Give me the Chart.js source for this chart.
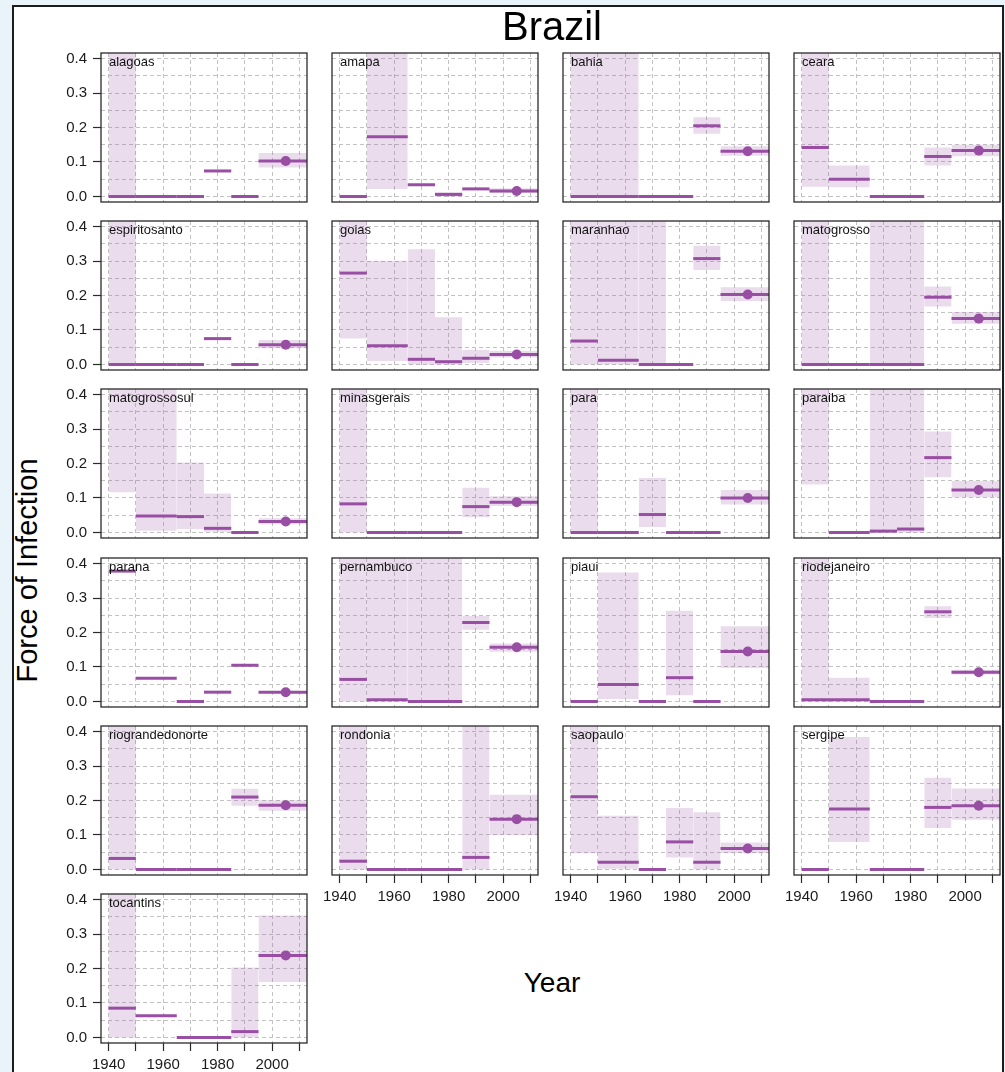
<!DOCTYPE html>
<html>
<head>
<meta charset="utf-8">
<title>Brazil – Force of Infection</title>
<script src="https://cdn.jsdelivr.net/npm/chart.js@4/dist/chart.umd.min.js"></script>
<style>
  html, body { margin: 0; padding: 0; }
  body {
    width: 1005px; height: 1072px; overflow: hidden; position: relative;
    background: #e9f4fa;
    font-family: "Liberation Sans", Arial, Helvetica, sans-serif;
  }
  #frame {
    position: absolute; left: 12px; top: 5px; width: 992px; height: 1100px;
    box-sizing: border-box; background: #fff; border: 2px solid #1c1c1c;
  }
  canvas.panel { position: absolute; }
  .strip { position: absolute; font-size: 13px; line-height: 13px; color: #111; white-space: nowrap; }
  #title { position: absolute; left: 352px; top: 6px; width: 400px; text-align: center;
           font-size: 40px; line-height: 40px; color: #000; }
  #xlabel { position: absolute; left: 402px; top: 969px; width: 300px; text-align: center;
            font-size: 28px; line-height: 28px; color: #000; }
  #ylabel { position: absolute; left: -123px; top: 556px; width: 300px; height: 29px; text-align: center;
            font-size: 29px; line-height: 29px; color: #000; transform: rotate(-90deg); }
</style>
</head>
<body>
<div id="frame"></div>
<div id="panels"></div>
<div id="title">Brazil</div>
<div id="xlabel">Year</div>
<div id="ylabel">Force of Infection</div>
<script>
// States, one panel each, in reading order
const states = [
  'alagoas', 'amapa', 'bahia', 'ceara',
  'espiritosanto', 'goias', 'maranhao', 'matogrosso',
  'matogrossosul', 'minasgerais', 'para', 'paraiba',
  'parana', 'pernambuco', 'piaui', 'riodejaneiro',
  'riograndedonorte', 'rondonia', 'saopaulo', 'sergipe',
  'tocantins'
];

// Period boundaries (years); the last period runs past the axis end
const periodBreaks = [1940, 1950, 1965, 1975, 1985, 1995, 2015];
const estimateYear = 2005;

// Axis ticks
const yearGridLines = [1940, 1950, 1960, 1970, 1980, 1990, 2000, 2010];
const yearLabels = [1940, 1960, 1980, 2000];
const foiGridLines = [0, 0.05, 0.1, 0.15, 0.2, 0.25, 0.3, 0.35, 0.4];
const foiLabels = [0, 0.1, 0.2, 0.3, 0.4];

// Force of infection per period (one row per state)
const foi = [
  [0, 0, 0, 0.074, 0, 0.103],
  [0, 0.173, 0.034, 0.006, 0.022, 0.016],
  [0, 0, 0, 0, 0.205, 0.131],
  [0.142, 0.05, 0, 0, 0.116, 0.133],
  [0, 0, 0, 0.075, 0, 0.057],
  [0.265, 0.054, 0.015, 0.008, 0.018, 0.029],
  [0.068, 0.012, 0, 0, 0.307, 0.203],
  [0, 0, 0, 0, 0.195, 0.133],
  [0.5, 0.048, 0.046, 0.012, 0, 0.032],
  [0.083, 0, 0, 0, 0.075, 0.088],
  [0, 0, 0.052, 0, 0, 0.1],
  [0.5, 0, 0.004, 0.01, 0.217, 0.123],
  [0.378, 0.067, 0, 0.027, 0.105, 0.027],
  [0.064, 0.005, 0, 0, 0.229, 0.157],
  [0, 0.049, 0, 0.069, 0, 0.145],
  [0.005, 0.005, 0, 0, 0.26, 0.085],
  [0.032, 0, 0, 0, 0.21, 0.186],
  [0.024, 0, 0, 0, 0.035, 0.146],
  [0.211, 0.021, 0, 0.08, 0.021, 0.061],
  [0, 0.175, 0, 0, 0.18, 0.185],
  [0.085, 0.063, 0, 0, 0.017, 0.238]
];

// Lower bound of the credible interval per period
const foiLower = [
  [0, 0, 0, 0.074, 0, 0.084],
  [0, 0.022, 0.034, 0, 0.022, 0.01],
  [0, 0, 0, 0, 0.182, 0.118],
  [0.028, 0.027, 0, 0, 0.09, 0.117],
  [0, 0, 0, 0.075, 0, 0.047],
  [0.075, 0.01, 0, 0, 0.004, 0.02],
  [0, 0, 0, 0, 0.274, 0.184],
  [0, 0, 0, 0, 0.168, 0.118],
  [0.117, 0.005, 0.01, 0.002, 0, 0.024],
  [0, 0, 0, 0, 0.044, 0.077],
  [0, 0, 0.016, 0, 0, 0.081],
  [0.139, 0, 0, 0, 0.16, 0.102],
  [0.378, 0.067, 0, 0.027, 0.105, 0.027],
  [0, 0, 0, 0, 0.208, 0.144],
  [0, 0.007, 0, 0.018, 0, 0.097],
  [0, 0, 0, 0, 0.242, 0.078],
  [0, 0, 0, 0, 0.185, 0.17],
  [0, 0, 0, 0, 0, 0.099],
  [0.047, 0.002, 0, 0.035, 0, 0.047],
  [0, 0.08, 0, 0, 0.12, 0.144],
  [0, 0.063, 0, 0, 0, 0.161]
];

// Upper bound of the credible interval per period
const foiUpper = [
  [0.6, 0, 0, 0.074, 0, 0.126],
  [0, 0.6, 0.034, 0.012, 0.022, 0.024],
  [0.6, 0.6, 0, 0, 0.23, 0.146],
  [0.6, 0.09, 0, 0, 0.142, 0.15],
  [0.6, 0, 0, 0.075, 0, 0.071],
  [0.6, 0.301, 0.334, 0.137, 0.042, 0.04],
  [0.6, 0.6, 0.6, 0, 0.344, 0.224],
  [0.6, 0, 0.6, 0.6, 0.226, 0.152],
  [0.6, 0.6, 0.203, 0.113, 0, 0.041],
  [0.6, 0, 0, 0, 0.13, 0.105],
  [0.6, 0, 0.158, 0, 0, 0.123],
  [0.6, 0, 0.6, 0.6, 0.293, 0.149],
  [0.378, 0.067, 0, 0.027, 0.105, 0.027],
  [0.6, 0.6, 0.6, 0.6, 0.248, 0.168],
  [0, 0.374, 0, 0.263, 0, 0.218],
  [0.6, 0.069, 0, 0, 0.276, 0.092],
  [0.6, 0, 0, 0, 0.234, 0.201],
  [0.6, 0, 0, 0, 0.6, 0.217],
  [0.6, 0.156, 0, 0.178, 0.166, 0.078],
  [0, 0.384, 0, 0, 0.266, 0.235],
  [0.6, 0.063, 0, 0, 0.203, 0.354]
];

const FONT = '"Liberation Sans", Arial, Helvetica, sans-serif';
Chart.defaults.font.family = FONT;

const PURPLE = '#984ea3';
const BAND = 'rgba(152, 78, 163, 0.2)';
const GRID = '#c2c2c2';
const INK = '#2a2a2a';

const N_COL = 4;
const PANEL_W = 209, PANEL_H = 152;
const COL_LEFT = 101, COL_STEP = 231;
const ROW_TOP = 50, ROW_STEP = 168.2;
const AXIS_L = 44, AXIS_B = 36, PAD = 2;

// Box around each panel's plotting region
const panelFrame = {
  id: 'panelFrame',
  afterDraw(chart) {
    const { ctx, chartArea: a } = chart;
    ctx.save();
    ctx.strokeStyle = INK;
    ctx.lineWidth = 1.3;
    ctx.strokeRect(a.left, a.top, a.right - a.left, a.bottom - a.top);
    ctx.restore();
  }
};

const near = (v, list) => list.some(t => Math.abs(t - v) < 1e-9);

function panelDatasets(i) {
  const sets = [];
  const n = foi[i].length;
  // credible-interval bands
  for (let k = 0; k < n; k++) {
    const x0 = periodBreaks[k], x1 = periodBreaks[k + 1];
    sets.push({
      data: [{ x: x0, y: foiUpper[i][k] }, { x: x1, y: foiUpper[i][k] }],
      borderWidth: 0, pointRadius: 0, backgroundColor: BAND,
      fill: { value: foiLower[i][k] }, order: 3, clip: 0
    });
  }
  // period estimates
  for (let k = 0; k < n; k++) {
    const x0 = periodBreaks[k], x1 = periodBreaks[k + 1];
    sets.push({
      data: [{ x: x0, y: foi[i][k] }, { x: x1, y: foi[i][k] }],
      borderColor: PURPLE, borderWidth: 3, pointRadius: 0,
      fill: false, order: 2, clip: 0
    });
  }
  // current estimate marker
  sets.push({
    data: [{ x: estimateYear, y: foi[i][n - 1] }],
    showLine: false, pointRadius: 5, pointBackgroundColor: PURPLE,
    pointBorderWidth: 0, order: 1, clip: false
  });
  return sets;
}

const host = document.getElementById('panels');

states.forEach((name, i) => {
  const row = Math.floor(i / N_COL), col = i % N_COL;
  const left = COL_LEFT + col * COL_STEP;
  const top = Math.round(ROW_TOP + row * ROW_STEP);
  const showY = col === 0;
  const showX = i + N_COL >= states.length;

  const cv = document.createElement('canvas');
  cv.className = 'panel';
  const w = AXIS_L + PANEL_W + PAD, h = PAD + PANEL_H + AXIS_B;
  cv.width = w; cv.height = h;
  cv.style.left = (left - AXIS_L) + 'px';
  cv.style.top = (top - PAD) + 'px';
  cv.style.width = w + 'px'; cv.style.height = h + 'px';
  host.appendChild(cv);

  const strip = document.createElement('div');
  strip.className = 'strip';
  strip.textContent = name;
  strip.style.left = (left + 8) + 'px';
  strip.style.top = (top + 5) + 'px';
  host.appendChild(strip);

  new Chart(cv.getContext('2d'), {
    type: 'line',
    data: { datasets: panelDatasets(i) },
    plugins: [panelFrame],
    options: {
      responsive: false, animation: false, events: [], devicePixelRatio: 1,
      layout: { padding: { top: PAD, right: PAD, left: 0, bottom: 0 } },
      plugins: { legend: { display: false }, tooltip: { enabled: false } },
      scales: {
        x: {
          type: 'linear', min: 1937.2, max: 2012.8, z: 1,
          afterBuildTicks: s => { s.ticks = yearGridLines.map(v => ({ value: v })); },
          afterFit: s => { s.height = AXIS_B; s.paddingLeft = 0; s.paddingRight = 0; },
          grid: { color: GRID, lineWidth: 1, drawTicks: showX, tickLength: 8,
                  tickWidth: 1.2, tickColor: INK },
          border: { display: false, dash: [4, 3] },
          ticks: {
            display: showX, autoSkip: false, maxRotation: 0, padding: 5,
            color: '#1a1a1a', font: { size: 15 },
            callback: v => (near(v, yearLabels) ? String(v) : '')
          }
        },
        y: {
          type: 'linear', min: -0.016, max: 0.416, z: 1,
          afterBuildTicks: s => { s.ticks = foiGridLines.map(v => ({ value: v })); },
          afterFit: s => { s.width = AXIS_L; s.paddingTop = 0; s.paddingBottom = 0; },
          grid: {
            color: GRID, lineWidth: 1, drawTicks: showY, tickLength: 8, tickWidth: 1.2,
            tickColor: c => (c.tick && near(c.tick.value, foiLabels) ? INK : 'rgba(0,0,0,0)')
          },
          border: { display: false, dash: [4, 3] },
          ticks: {
            display: showY, autoSkip: false, padding: 6,
            color: '#1a1a1a', font: { size: 15 },
            callback: v => (near(v, foiLabels) ? v.toFixed(1) : '')
          }
        }
      }
    }
  });
});
</script>
</body>
</html>
